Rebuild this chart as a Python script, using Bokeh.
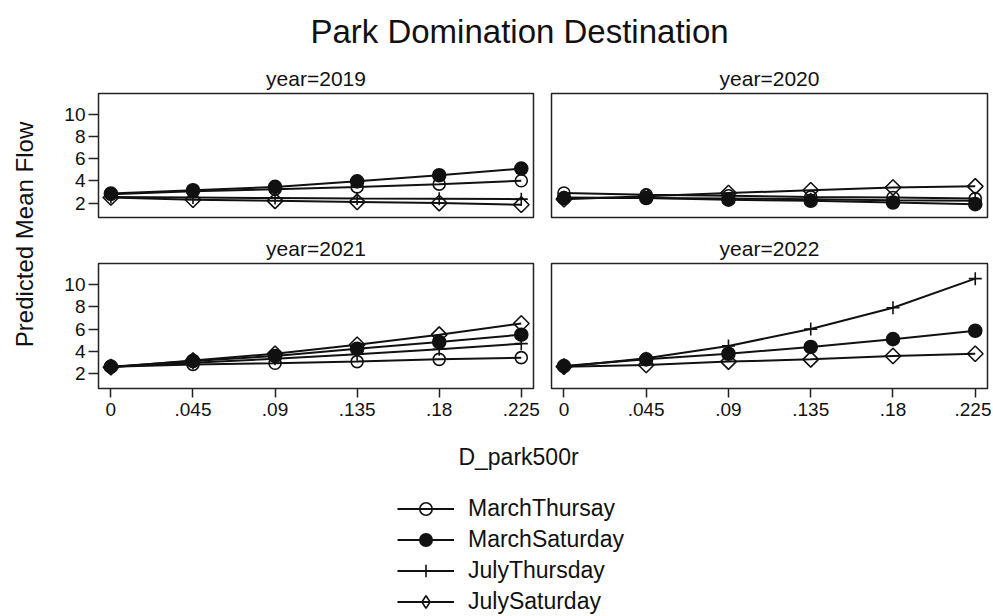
import math
from bokeh.plotting import figure
from bokeh.layouts import row, column
from bokeh.models import (Range1d, FixedTicker, CustomJSTickFormatter, Legend,
                          LegendItem, ColumnDataSource)
from bokeh.core.properties import value
from bokeh.embed import file_html
from bokeh.resources import INLINE

FONT = "Liberation Sans"
INK = "#111111"
NAN = float("nan")

# ---------------- data ----------------
x_values = [0, 0.045, 0.09, 0.135, 0.18, 0.225]
y_ticks = [2, 4, 6, 8, 10]
years = ["2019", "2020", "2021", "2022"]
series_names = ["MarchThursay", "MarchSaturday", "JulyThursday", "JulySaturday"]

march_thursday = {
    "2019": [2.8, 3.05, 3.25, 3.45, 3.7, 4.0],
    "2020": [2.9, 2.75, 2.65, 2.55, 2.5, 2.4],
    "2021": [2.65, 2.85, 2.95, 3.1, 3.3, 3.45],
    "2022": [NAN, NAN, NAN, NAN, NAN, NAN],
}
march_saturday = {
    "2019": [2.85, 3.15, 3.45, 3.95, 4.5, 5.1],
    "2020": [2.45, 2.45, 2.3, 2.2, 2.05, 1.9],
    "2021": [2.65, 3.15, 3.6, 4.25, 4.85, 5.5],
    "2022": [2.7, 3.3, 3.8, 4.4, 5.1, 5.85],
}
july_thursday = {
    "2019": [2.55, 2.5, 2.45, 2.4, 2.38, 2.35],
    "2020": [2.5, 2.45, 2.4, 2.35, 2.25, 2.2],
    "2021": [2.65, 3.0, 3.35, 3.75, 4.2, 4.7],
    "2022": [2.65, 3.4, 4.5, 6.0, 7.9, 10.5],
}
july_saturday = {
    "2019": [2.5, 2.3, 2.2, 2.1, 2.0, 1.85],
    "2020": [2.35, 2.6, 2.9, 3.15, 3.4, 3.5],
    "2021": [2.6, 3.2, 3.8, 4.6, 5.5, 6.5],
    "2022": [2.65, 2.8, 3.1, 3.3, 3.6, 3.8],
}
series_data = [march_thursday, march_saturday, july_thursday, july_saturday]

# ---------------- styles ----------------
marker_styles = [
    dict(marker="circle", size=12, fill_alpha=0.0, angle=0.0),
    dict(marker="circle", size=13, fill_alpha=1.0, angle=0.0),
    dict(marker="cross", size=13, fill_alpha=0.0, angle=0.0),
    dict(marker="square", size=11, fill_alpha=0.0, angle=math.pi / 4),
]
legend_markers = ["circle", "circle", "cross", "diamond"]

x_fmt = CustomJSTickFormatter(code="""
if (tick == 0) { return "0"; }
return tick.toFixed(3).replace(/^0/, "").replace(/0+$/, "");
""")


def make_panel(year, show_x, show_y, width, height, mbl, mbr, mbt, mbb):
    p = figure(width=width, height=height,
               x_range=Range1d(-0.0068, 0.2317), y_range=Range1d(0.7, 11.85),
               x_axis_location="below" if show_x else None,
               y_axis_location="left" if show_y else None,
               min_border_left=mbl, min_border_right=mbr,
               min_border_top=mbt, min_border_bottom=mbb,
               title="year=" + year,
               output_backend="svg", toolbar_location=None)
    p.background_fill_color = "white"
    p.border_fill_color = "white"
    p.outline_line_color = "#222222"
    p.outline_line_width = 1.5
    p.xgrid.visible = False
    p.ygrid.visible = False
    p.title.text_font = FONT
    p.title.text_font_size = "21px"
    p.title.text_font_style = "normal"
    p.title.text_color = INK
    p.title.align = "center"
    p.title.standoff = 8
    for ax in p.axis:
        ax.axis_line_color = None
        ax.major_tick_line_color = "#222222"
        ax.major_tick_line_width = 1.5
        ax.major_tick_in = 0
        ax.minor_tick_line_color = None
        ax.major_label_text_font = FONT
        ax.major_label_text_color = INK
        ax.major_label_standoff = 3
    if show_x:
        p.xaxis.ticker = FixedTicker(ticks=x_values)
        p.xaxis.formatter = x_fmt
        p.xaxis.major_tick_out = 9
        p.xaxis.major_label_standoff = 5
        p.xaxis.major_label_text_font_size = "19px"
    if show_y:
        p.yaxis.ticker = FixedTicker(ticks=y_ticks)
        p.yaxis.major_tick_out = 10
        p.yaxis.major_label_text_font_size = "19px"

    for data, st in zip(series_data, marker_styles):
        src = ColumnDataSource(data=dict(x=x_values, y=data[year]))
        p.line("x", "y", source=src, line_width=2, line_color=INK)
        p.scatter("x", "y", source=src, marker=st["marker"], size=st["size"],
                  angle=st["angle"], line_color=INK, line_width=1.6,
                  fill_color=INK, fill_alpha=st["fill_alpha"])
    return p


def blank(width, height):
    p = figure(width=width, height=height, x_range=Range1d(0, width),
               y_range=Range1d(0, height), x_axis_location=None,
               y_axis_location=None, min_border=0,
               output_backend="svg", toolbar_location=None)
    p.outline_line_color = None
    p.xgrid.visible = False
    p.ygrid.visible = False
    p.background_fill_color = "white"
    p.border_fill_color = "white"
    return p


# ---------------- panels ----------------
p19 = make_panel("2019", False, True, 484, 161, 40, 9, 32, 4)
p20 = make_panel("2020", False, False, 449, 161, 9, 4, 32, 4)
p21 = make_panel("2021", True, True, 484, 209, 40, 9, 42, 42)
p22 = make_panel("2022", True, False, 449, 209, 9, 4, 42, 42)

# ---------------- title ----------------
tfig = blank(991, 60)
tfig.text(x=[519], y=[29], text=["Park Domination Destination"],
          text_font=value(FONT), text_font_size="33px", text_align="center",
          text_baseline="middle", text_color=INK)

# ---------------- y label ----------------
yfig = blank(58, 370)
yfig.text(x=[24], y=[196], text=["Predicted Mean Flow"], angle=math.pi / 2,
          text_font=value(FONT), text_font_size="24px", text_align="center",
          text_baseline="middle", text_color=INK)

# ---------------- x label + legend ----------------
BH = 184
bfig = blank(991, BH)
bfig.text(x=[518], y=[BH - 26], text=["D_park500r"],
          text_font=value(FONT), text_font_size="23px", text_align="center",
          text_baseline="middle", text_color=INK)

items = []
for name, st, lm in zip(series_names, marker_styles, legend_markers):
    esrc = ColumnDataSource(data=dict(x=[NAN], y=[NAN]))
    lr = bfig.line("x", "y", source=esrc, line_width=2, line_color=INK)
    sr = bfig.scatter("x", "y", source=esrc, marker=lm, size=st["size"],
                      line_color=INK, line_width=1.6,
                      fill_color=INK, fill_alpha=st["fill_alpha"])
    items.append(LegendItem(label=value(name), renderers=[lr, sr]))

legend = Legend(items=items, location=(397, -3), orientation="vertical",
                glyph_width=57, glyph_height=31, label_height=31, spacing=0,
                padding=0, margin=0, label_standoff=14,
                border_line_color=None, background_fill_alpha=0.0,
                label_text_font=FONT, label_text_font_size="23px",
                label_text_color=INK)
bfig.add_layout(legend)

layout = column(
    tfig,
    row(yfig, column(row(p19, p20), row(p21, p22))),
    bfig,
)

open("out.html", "w").write(file_html(layout, INLINE))
